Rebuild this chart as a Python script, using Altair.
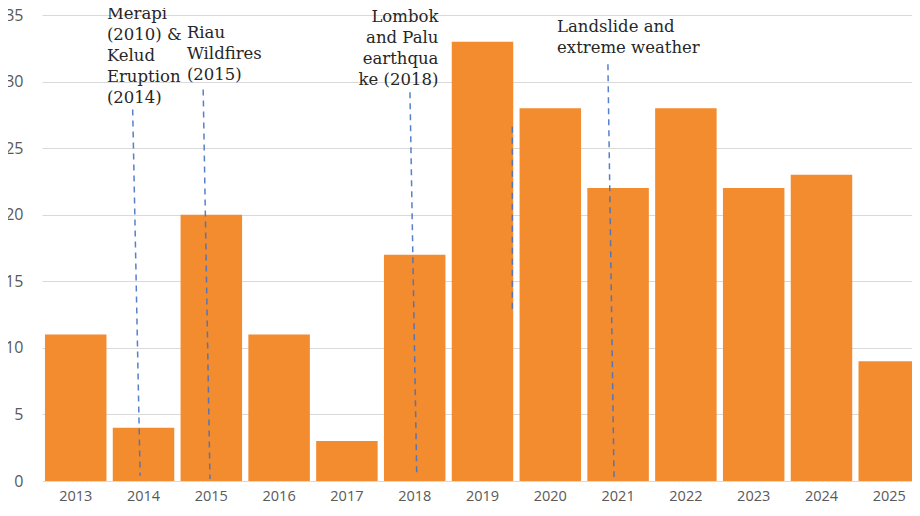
import altair as alt
import pandas as pd

# ---- data ----
years = [str(y) for y in range(2013, 2026)]
counts = [11, 4, 20, 11, 3, 17, 33, 28, 22, 28, 22, 23, 9]

# dashed annotation lines (x in fractional years, y in chart units)
line_x_top = [2013.84, 2014.88, 2017.93, 2019.44, 2020.85]
line_x_bot = [2013.95, 2014.98, 2018.03, 2019.44, 2020.94]
line_y_top = [27.9, 29.4, 29.2, 26.6, 31.3]
line_y_bot = [0.4, 0.15, 0.45, 12.6, 0.3]

# annotation texts
left_texts = [
    "Merapi\n(2010) &\nKelud\nEruption\n(2014)",
    "Riau\nWildfires\n(2015)",
    "Landslide and\nextreme weather",
]
left_x = [2013.46, 2014.64, 2020.10]
left_y = [34.70, 33.27, 33.72]

right_texts = ["Lombok\nand Palu\nearthqua\nke (2018)"]
right_x = [2018.35]
right_y = [34.47]

bars_df = pd.DataFrame({"year": years, "count": counts})
lines_df = pd.DataFrame({"x": line_x_top, "x2": line_x_bot, "y": line_y_top, "y2": line_y_bot})
ltext_df = pd.DataFrame({"x": left_x, "y": left_y, "t": left_texts})
rtext_df = pd.DataFrame({"x": right_x, "y": right_y, "t": right_texts})

W = 870          # visible plot width (svg must stay inside the window)
R = [0, 881]     # x range runs past the visible edge, as in the cropped reference
P_IN, P_OUT = 0.093, 0.044
n = len(years)
step_units = n - P_IN + 2 * P_OUT
first_center = P_OUT + (1 - P_IN) / 2
q_lo = 2013 - first_center
q_hi = q_lo + step_units

yscale = alt.Scale(domain=[0, 35], nice=False, zero=True)
qx = alt.Scale(domain=[q_lo, q_hi], range=R, nice=False, zero=False)

bars = alt.Chart(bars_df).mark_bar(color="#F38B2F").encode(
    x=alt.X(
        "year:N",
        sort=years,
        scale=alt.Scale(range=R, paddingInner=P_IN, paddingOuter=P_OUT),
        axis=alt.Axis(
            title=None, labelAngle=0, ticks=False, domain=False,
            labelFont="Open Sans", labelFontSize=14.5, labelColor="#595959",
            labelPadding=8, grid=False,
        ),
    ),
    y=alt.Y(
        "count:Q",
        scale=yscale,
        axis=alt.Axis(
            title=None, values=[0, 5, 10, 15, 20, 25, 30, 35], ticks=False, domain=False,
            grid=True, gridColor="#D9D9D9", gridWidth=1,
            labelFont="Open Sans", labelFontSize=16, labelColor="#595959",
            labelPadding=19,
        ),
    ),
)

rules = alt.Chart(lines_df).mark_rule(
    color="#4472C4", strokeDash=[6, 5], strokeWidth=1.5, opacity=0.9
).encode(
    x=alt.X("x:Q", scale=qx, axis=None),
    x2="x2:Q",
    y=alt.Y("y:Q", scale=yscale),
    y2="y2:Q",
)

ltext = alt.Chart(ltext_df).mark_text(
    align="left", baseline="alphabetic", lineBreak="\n", lineHeight=21,
    font="DejaVu Serif", fontSize=16.5, color="#262626",
).encode(
    x=alt.X("x:Q", scale=qx, axis=None),
    y=alt.Y("y:Q", scale=yscale),
    text="t:N",
)

rtext = alt.Chart(rtext_df).mark_text(
    align="right", baseline="alphabetic", lineBreak="\n", lineHeight=21,
    font="DejaVu Serif", fontSize=16.5, color="#262626",
).encode(
    x=alt.X("x:Q", scale=qx, axis=None),
    y=alt.Y("y:Q", scale=yscale),
    text="t:N",
)

chart = (
    alt.layer(bars, rules, ltext, rtext)
    .resolve_scale(x="independent")
    .properties(
        width=W, height=466,
        autosize=alt.AutoSizeParams(type="none"),
        padding={"left": 34, "top": 7, "right": 0, "bottom": 23},
    )
    .configure_view(stroke=None)
)

chart.save("out.html", embed_options={"renderer": "svg", "actions": False})
